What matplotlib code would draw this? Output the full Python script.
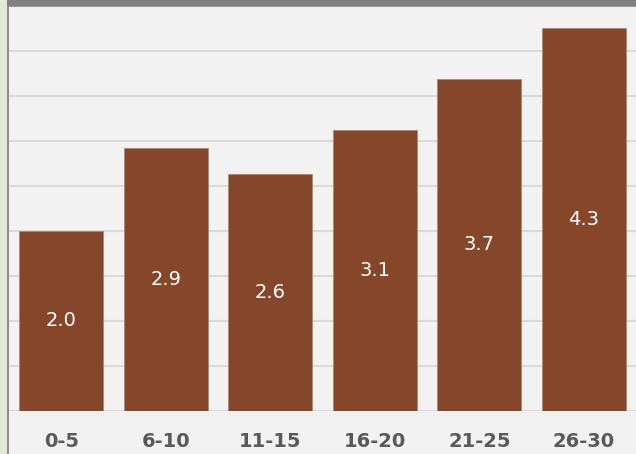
import matplotlib.pyplot as plt
from matplotlib.patches import Rectangle

# DATA
categories = ["0-5", "6-10", "11-15", "16-20", "21-25", "26-30"]
values = [2.0, 2.92, 2.63, 3.12, 3.69, 4.26]

bar_color = "#86462a"
bg_color = "#f2f2f2"
grid_color = "#d9d9d9"

fig = plt.figure(figsize=(6.36, 4.54), dpi=100)
fig.patch.set_facecolor(bg_color)

W, H = 636, 454
ax = fig.add_axes([9 / W, (H - 411) / H, (W - 9) / W, 405 / H])
ax.set_facecolor(bg_color)

x = range(len(categories))
bars = ax.bar(x, values, width=0.8, color=bar_color, edgecolor="#b08670", linewidth=0.6, zorder=3)

for rect, v in zip(bars, values):
    ax.text(rect.get_x() + rect.get_width() / 2, v / 2, f"{v:.1f}",
            ha="center", va="center", color="white", fontsize=14, zorder=4)

ax.set_xlim(-0.5, len(categories) - 0.5)
ax.set_ylim(0, 4.5)
ax.set_yticks([i * 0.5 for i in range(10)])
ax.yaxis.grid(True, color=grid_color, linewidth=1.5, zorder=0)
ax.tick_params(axis="y", left=False, labelleft=False)
ax.set_xticks(list(x))
ax.set_xticklabels(categories, fontsize=14, fontweight="bold", color="#595959")
ax.tick_params(axis="x", length=0, pad=15)
for s in ax.spines.values():
    s.set_visible(False)

# frame decorations: green strip on the left, gray bar on top
fig.patches.append(Rectangle((0, 0), 7 / W, 1, transform=fig.transFigure,
                             facecolor="#e2ead7", edgecolor="none"))
fig.patches.append(Rectangle((7 / W, 0), 2 / W, (H - 5) / H, transform=fig.transFigure,
                             facecolor="#8c8c8c", edgecolor="none"))
fig.patches.append(Rectangle((7 / W, (H - 6) / H), 1, 6 / H, transform=fig.transFigure,
                             facecolor="#808080", edgecolor="none"))
fig.patches.append(Rectangle((7 / W, (H - 7) / H), 1, 1.5 / H, transform=fig.transFigure,
                             facecolor="#999999", edgecolor="none"))

fig.savefig("out.png", dpi=100)
